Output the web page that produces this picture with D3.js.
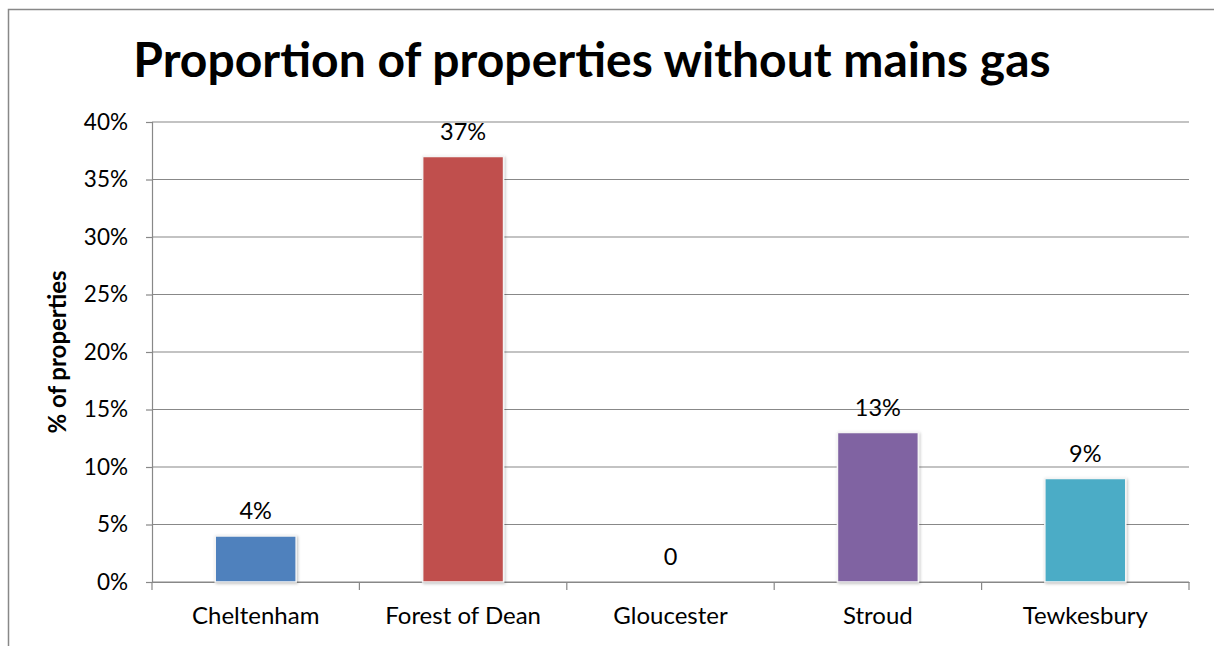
<!DOCTYPE html>
<html>
<head>
<meta charset="utf-8">
<script src="https://cdn.jsdelivr.net/npm/d3@7"></script>
<style>
  body { margin: 0; background: #fff; }
  svg text { font-family: Lato, "Open Sans", sans-serif; fill: #000; }
</style>
</head>
<body>
<svg id="chart" width="1214" height="646"></svg>
<script>
// data
let districts = ["Cheltenham", "Forest of Dean", "Gloucester", "Stroud", "Tewkesbury"];
let values = [4, 37, 0, 13, 9];
let valueLabels = ["4%", "37%", "0", "13%", "9%"];
let barColors = ["#4F81BD", "#C0504D", "#8064A2", "#8064A2", "#4BACC6"];
let yTicks = [0, 5, 10, 15, 20, 25, 30, 35, 40];

let svg = d3.select("#chart");
let margin = {top: 122, right: 25, bottom: 64, left: 152};
let width = 1214 - margin.left - margin.right,
    height = 646 - margin.top - margin.bottom;

// outer frame (only left and top edges are inside the picture)
svg.append("rect")
    .attr("x", 8.5).attr("y", 9.5)
    .attr("width", 1300).attr("height", 700)
    .attr("fill", "none").attr("stroke", "#888").attr("stroke-width", 1.5);

let x = d3.scaleBand().domain(districts).range([0, width]).paddingInner(0.61).paddingOuter(0.305);
let y = d3.scaleLinear().domain([0, 40]).range([height, 0]);

let g = svg.append("g").attr("transform", `translate(${margin.left},${margin.top})`);

// gridlines
g.selectAll("line.grid")
    .data(yTicks).enter()
    .append("line")
    .attr("x1", 0).attr("x2", width)
    .attr("y1", (d) => y(d)).attr("y2", (d) => y(d))
    .attr("stroke", "#888").attr("stroke-width", 1.2);

// y axis
let yAxis = g.append("g")
    .call(d3.axisLeft(y).tickValues(yTicks).tickSize(6).tickPadding(18).tickFormat((d) => d + "%"));
yAxis.select(".domain").attr("stroke", "#888").attr("stroke-width", 1.2);
yAxis.selectAll(".tick line").attr("stroke", "#888").attr("stroke-width", 1.2);
yAxis.selectAll("text").style("font-size", "22.5px").style("font-family", "Lato, sans-serif");

// x axis with ticks on category boundaries
let xAxis = g.append("g").attr("transform", `translate(0,${height})`)
    .call(d3.axisBottom(x).tickSize(0).tickPadding(25));
xAxis.select(".domain").attr("stroke", "#888").attr("stroke-width", 1.2);
xAxis.selectAll("text").style("font-size", "24px").style("font-family", "Lato, sans-serif");
let step = x.step();
g.selectAll("line.xtick")
    .data(d3.range(districts.length + 1)).enter()
    .append("line")
    .attr("x1", (i) => i * step).attr("x2", (i) => i * step)
    .attr("y1", height).attr("y2", height + 8)
    .attr("stroke", "#888").attr("stroke-width", 1.2);

// bars
let defs = svg.append("defs");
defs.append("filter").attr("id", "shadow")
    .attr("x", "-10%").attr("y", "-10%").attr("width", "120%").attr("height", "120%")
    .append("feDropShadow")
    .attr("dx", 1).attr("dy", 1).attr("stdDeviation", 1.5)
    .attr("flood-color", "#000").attr("flood-opacity", 0.25);

g.selectAll("rect.bar")
    .data(values).enter()
    .append("rect")
    .attr("x", (d, i) => x(districts[i]))
    .attr("y", (d) => y(d))
    .attr("width", x.bandwidth())
    .attr("height", (d) => height - y(d))
    .attr("fill", (d, i) => barColors[i])
    .attr("stroke", (d) => d > 0 ? "#f4f4f4" : "none")
    .attr("stroke-width", 1.5)
    .attr("filter", "url(#shadow)");

// value labels
g.selectAll("text.val")
    .data(values).enter()
    .append("text")
    .attr("x", (d, i) => x(districts[i]) + x.bandwidth() / 2)
    .attr("y", (d) => y(d) - 17)
    .attr("text-anchor", "middle")
    .style("font-size", "23.5px")
    .text((d, i) => valueLabels[i]);

// title
svg.append("text")
    .attr("x", 592).attr("y", 77)
    .attr("text-anchor", "middle")
    .style("font-size", "48px").style("font-weight", "bold")
    .text("Proportion of properties without mains gas");

// y axis title
svg.append("text")
    .attr("transform", `translate(66,${margin.top + height / 2}) rotate(-90)`)
    .attr("text-anchor", "middle")
    .style("font-size", "24px").style("font-weight", "bold")
    .text("% of properties");
</script>
</body>
</html>
